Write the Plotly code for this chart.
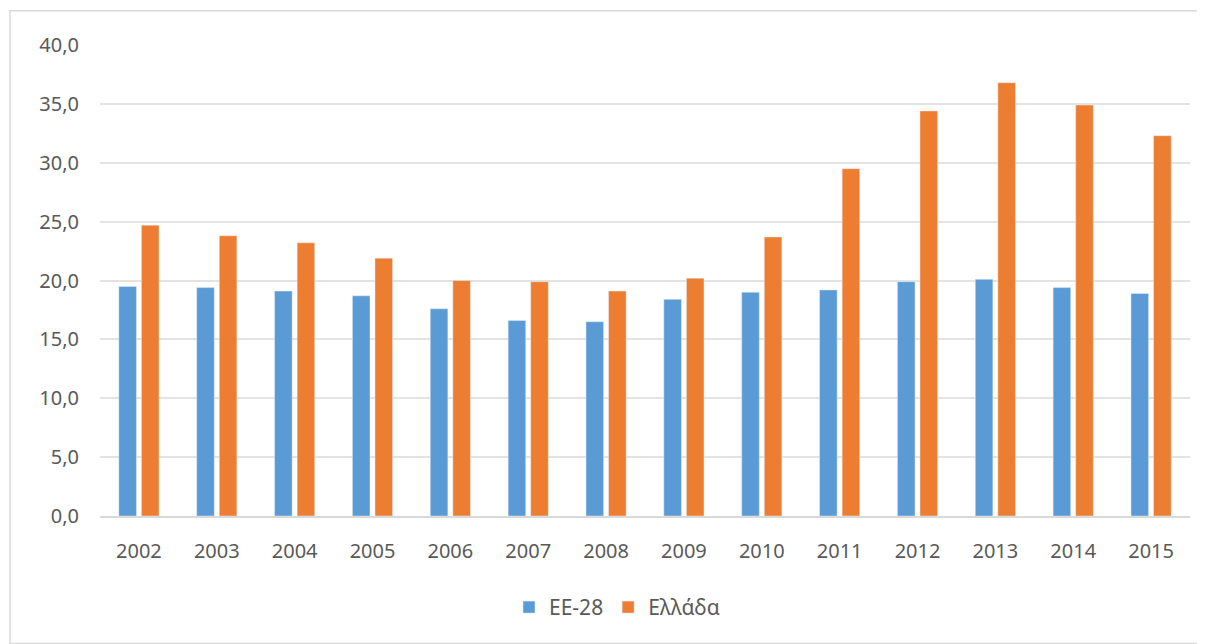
import plotly.graph_objects as go

years = ["2002", "2003", "2004", "2005", "2006", "2007", "2008",
         "2009", "2010", "2011", "2012", "2013", "2014", "2015"]
ee28 = [19.5, 19.4, 19.1, 18.7, 17.6, 16.6, 16.5, 18.4, 19.0, 19.2, 19.9, 20.1, 19.4, 18.9]
greece = [24.7, 23.8, 23.2, 21.9, 20.0, 19.9, 19.1, 20.2, 23.7, 29.5, 34.4, 36.8, 34.9, 32.3]
y_ticks = [0, 5, 10, 15, 20, 25, 30, 35, 40]

fig = go.Figure()
fig.add_trace(go.Bar(x=years, y=ee28, name="EE-28", marker_color="#5B9BD5"))
fig.add_trace(go.Bar(x=years, y=greece, name="Ελλάδα", marker_color="#ED7D31"))

# page body has an 8px margin, so the figure is sized/offset to compensate
W, H = 1197, 636
L, R, T, B = 92, 15, 37.3, 128.3
pw, ph = W - L - R, H - T - B

font_family = "Noto Sans, Open Sans, sans-serif"
fig.update_layout(
    width=W, height=H,
    margin=dict(l=L, r=R, t=T, b=B, autoexpand=False),
    paper_bgcolor="white", plot_bgcolor="white",
    barmode="group", bargap=0.42, bargroupgap=0.22,
    separators=",.",
    font=dict(family=font_family, size=20, color="#595959"),
    legend=dict(orientation="h", x=(617 - 8 - L) / pw, xanchor="center",
                y=(H - B - 599) / ph, yanchor="middle",
                font=dict(size=21, color="#595959"), itemwidth=30, traceorder="normal"),
    showlegend=True,
)
fig.update_yaxes(range=[0, 40], tickvals=y_ticks, tickformat=".1f",
                 tickfont=dict(size=20),
                 showgrid=True, gridcolor="#E3E3E3", gridwidth=1.5,
                 zeroline=False, showline=False, ticks="", ticklabelstandoff=20)
fig.update_xaxes(showline=True, linecolor="#D9D9D9", linewidth=1.5, ticks="",
                 tickfont=dict(size=20), ticklabelstandoff=16)
# outer chart border
fig.add_shape(type="rect", xref="paper", yref="paper",
              x0=(2 - L) / pw, x1=(1196 - L) / pw,
              y0=(H - B - 635) / ph, y1=(H - B - 3) / ph,
              line=dict(color="#D9D9D9", width=1.5), fillcolor="rgba(0,0,0,0)", layer="below")
fig.write_html("out.html")
